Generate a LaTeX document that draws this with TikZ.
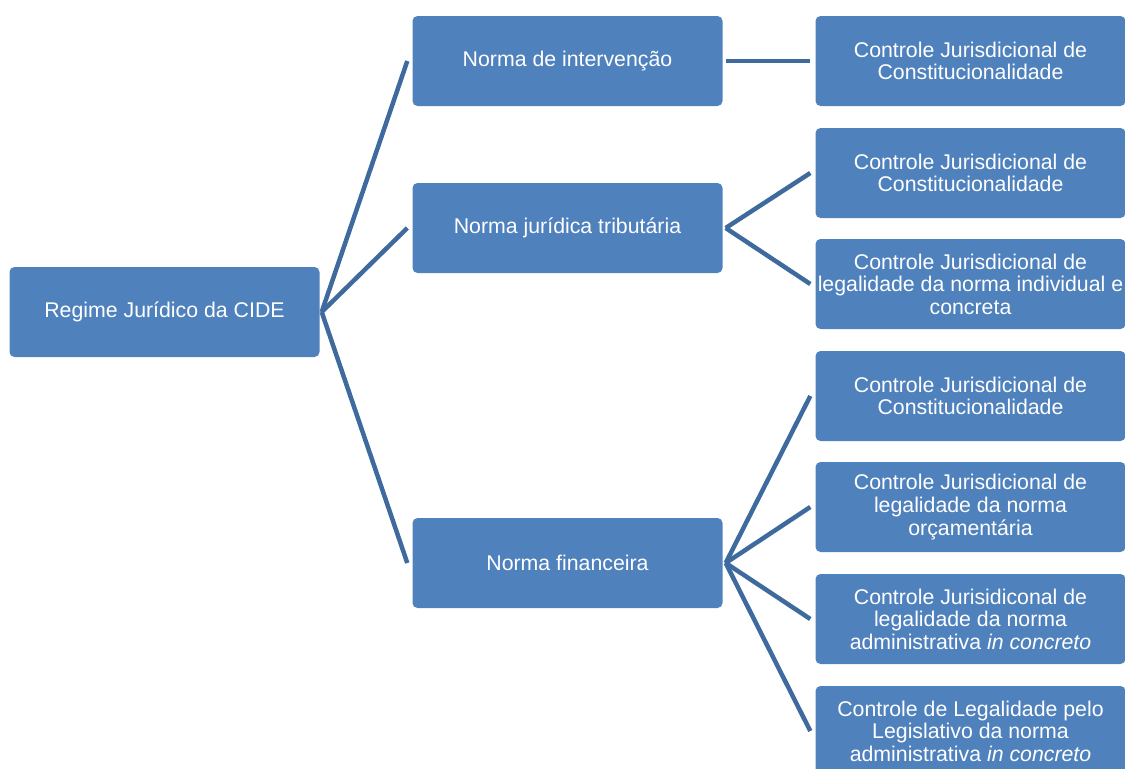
\documentclass[tikz,border=0pt]{standalone}
\usepackage{fontspec}
\setmainfont{Liberation Sans}
\usepackage{tikz}
\usetikzlibrary{arrows,shapes}
\definecolor{boxblue}{HTML}{4F81BD}
\definecolor{lineblue}{HTML}{3F6A9E}

\begin{document}
\begin{tikzpicture}[
  box/.style={rectangle,rounded corners=5bp,fill=boxblue,text=white,minimum width=310bp,minimum height=90bp,inner sep=0pt,align=center,font=\fontsize{21.3bp}{22.6bp}\selectfont},
  link/.style={-,line width=4.5bp,draw=lineblue}]

\useasboundingbox (0bp,0bp) rectangle (1125bp,-769bp);

\node (root) at (164.5bp,-312bp)[box] {Regime Jurídico da CIDE};

\node (N1) at (567.5bp,-61bp)[box] {Norma de intervenção};
\node (N2) at (567.5bp,-228bp)[box] {Norma jurídica tributária};
\node (N3) at (567.5bp,-563bp)[box] {Norma financeira};

\node (C1) at (970.5bp,-61bp)[box] {Controle Jurisdicional de\\Constitucionalidade};
\node (C2) at (970.5bp,-173bp)[box] {Controle Jurisdicional de\\Constitucionalidade};
\node (C3) at (970.5bp,-284bp)[box] {Controle Jurisdicional de\\legalidade da norma individual e\\concreta};
\node (C4) at (970.5bp,-396bp)[box] {Controle Jurisdicional de\\Constitucionalidade};
\node (C5) at (970.5bp,-507bp)[box] {Controle Jurisdicional de\\legalidade da norma\\orçamentária};
\node (C6) at (970.5bp,-619bp)[box] {Controle Jurisidiconal de\\legalidade da norma\\administrativa \textit{in concreto}};
\node (C7) at (970.5bp,-731bp)[box] {Controle de Legalidade pelo\\Legislativo da norma\\administrativa \textit{in concreto}};

\draw [link] ([xshift=2bp]root.east) to ([xshift=-5bp]N1.west);
\draw [link] ([xshift=2bp]root.east) to ([xshift=-5bp]N2.west);
\draw [link] ([xshift=2bp]root.east) to ([xshift=-5bp]N3.west);

\draw [link] ([xshift=3bp]N1.east) to ([xshift=-5bp]C1.west);
\draw [link] ([xshift=3bp]N2.east) to ([xshift=-5bp]C2.west);
\draw [link] ([xshift=3bp]N2.east) to ([xshift=-5bp]C3.west);
\draw [link] ([xshift=3bp]N3.east) to ([xshift=-5bp]C4.west);
\draw [link] ([xshift=3bp]N3.east) to ([xshift=-5bp]C5.west);
\draw [link] ([xshift=3bp]N3.east) to ([xshift=-5bp]C6.west);
\draw [link] ([xshift=3bp]N3.east) to ([xshift=-5bp]C7.west);
\end{tikzpicture}
\end{document}
